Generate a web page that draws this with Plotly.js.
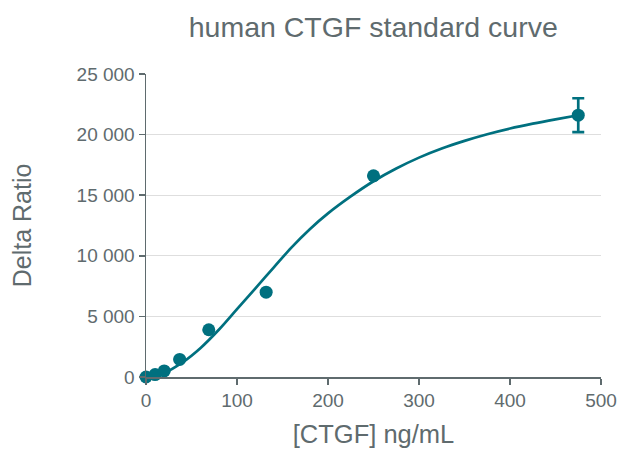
<!DOCTYPE html>
<html>
<head>
<meta charset="utf-8">
<script src="https://cdn.plot.ly/plotly-3.0.1.min.js"></script>
<style>html,body{margin:0;padding:0;background:#fff;}#chart{width:619px;height:452px;}</style>
</head>
<body>
<div id="chart"></div>
<script>
// Measured standards
const concentrations = [0, 10, 20, 37, 69, 132, 250, 475];
const deltaRatio = [0, 200, 500, 1450, 3900, 7000, 16600, 21600];
const errorValues = [0, 0, 0, 0, 0, 0, 0, 1400];

// Fitted curve
const fitX = [0, 20, 40, 60, 80, 100, 120, 140, 160, 180, 200, 225, 250, 275, 300, 325, 350, 375, 400, 425, 450, 475];
const fitY = [0, 330, 1200, 2400, 3900, 5600, 7300, 9000, 10700, 12200, 13500, 14900, 16150, 17200, 18100, 18850, 19480, 20030, 20500, 20900, 21260, 21600];

const xTicks = [0, 100, 200, 300, 400, 500];
const yTicks = [0, 5000, 10000, 15000, 20000, 25000];

const teal = '#00707f';
const grey = '#5f6b6e';

const traces = [
  {
    x: fitX, y: fitY, type: 'scatter', mode: 'lines',
    line: {color: teal, width: 2.7, shape: 'spline'},
    hoverinfo: 'skip', cliponaxis: false
  },
  {
    x: concentrations, y: deltaRatio, type: 'scatter', mode: 'markers',
    marker: {color: teal, size: 13},
    error_y: {type: 'data', array: errorValues, visible: true, color: teal, thickness: 2.7, width: 6},
    cliponaxis: false
  }
];

const layout = {
  width: 619, height: 452,
  margin: {l: 146, r: 18, t: 74, b: 75},
  paper_bgcolor: '#fff', plot_bgcolor: '#fff',
  showlegend: false,
  separators: '. ',
  font: {family: 'Liberation Sans, Arial, sans-serif', color: grey, size: 19},
  title: {text: 'human CTGF standard curve', x: 0.603, xanchor: 'center', y: 0.940, yanchor: 'middle',
          font: {size: 28.5, color: grey}},
  xaxis: {
    range: [0, 500], tickvals: xTicks, ticks: 'outside', ticklen: 6, tickcolor: grey, tickwidth: 1.5,
    showline: true, linecolor: grey, linewidth: 1.5, showgrid: false, zeroline: false,
    tickfont: {size: 19, color: grey},
    title: {text: '[CTGF] ng/mL', font: {size: 25.5, color: grey}, standoff: 15}
  },
  yaxis: {
    range: [0, 25000], tickvals: yTicks, ticks: 'outside', ticklen: 6, tickcolor: grey, tickwidth: 1.5,
    showline: true, linecolor: grey, linewidth: 1.5, showgrid: true, gridcolor: '#dedede', gridwidth: 1,
    zeroline: false, separatethousands: true, tickformat: ',d',
    tickfont: {size: 19, color: grey},
    title: {text: 'Delta Ratio', font: {size: 25, color: grey}, standoff: 38}
  }
};

Plotly.newPlot('chart', traces, layout, {displayModeBar: false, staticPlot: true});
</script>
</body>
</html>
